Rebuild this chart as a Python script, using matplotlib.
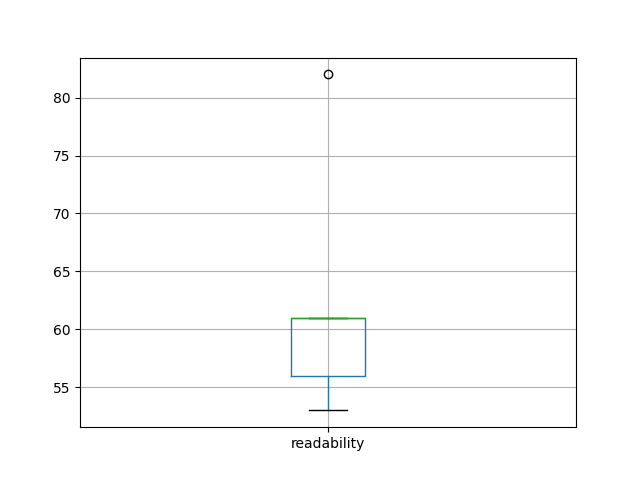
import matplotlib
matplotlib.use("Agg")
import matplotlib.pyplot as plt

labels = ["readability"]
readability = [53, 56, 61, 61, 82]

fig, ax = plt.subplots(figsize=(6.4, 4.8), dpi=100)
bp = ax.boxplot([readability], tick_labels=labels,
                boxprops=dict(color="#1f77b4"),
                whiskerprops=dict(color="#1f77b4"),
                medianprops=dict(color="#2ca02c"),
                capprops=dict(color="k"))
ax.grid(True)
fig.savefig("out.png")
